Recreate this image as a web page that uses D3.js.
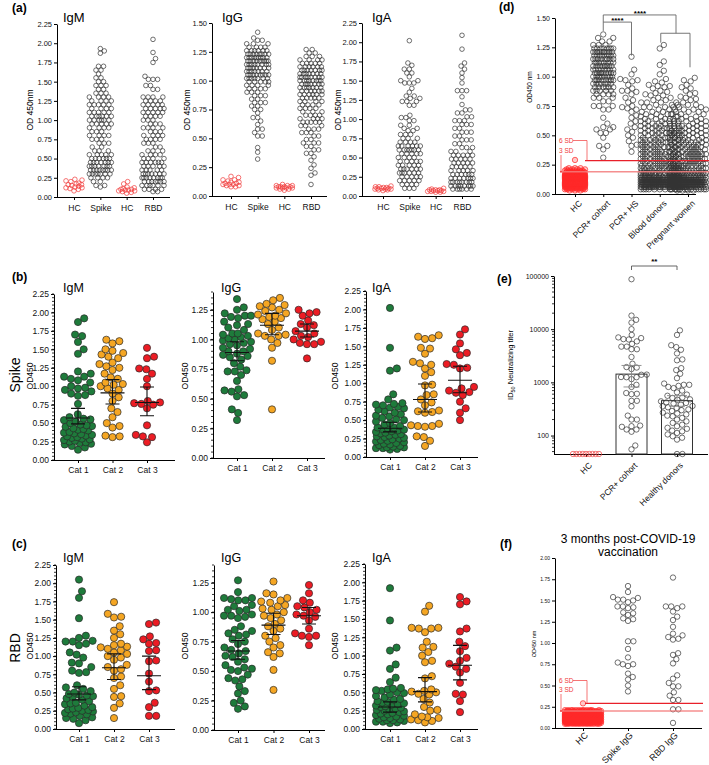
<!DOCTYPE html>
<html><head><meta charset="utf-8">
<script src="https://cdn.jsdelivr.net/npm/d3@7"></script>
<style>body{margin:0;background:#fff;} svg{display:block;}</style>
</head><body>
<svg id="c" width="709" height="765"></svg>
<script>
// ================= DATA =================
// values given either as single numbers or as [value, count] pairs
// ---- panel (a) ----
const aCats = ["HC","Spike","HC","RBD"];
const aTicks225 = [0,0.25,0.5,0.75,1,1.25,1.5,1.75,2,2.25];
const aTicks150 = [0,0.25,0.5,0.75,1,1.25,1.5];
const aIgM_HC1 = [0.23,0.22,0.21,0.20,0.18,0.17,0.16,0.16,0.15,0.14,0.13,0.12,0.12,0.11,0.10,0.08];
const aIgM_Spike = [[1.93,1],[1.90,1],[1.87,1],[1.70,2],[1.65,2],[1.60,1],[1.55,2],[1.50,2],[1.45,3],[1.40,2],[1.35,3],[1.30,4],[1.25,4],[1.20,5],[1.15,4],[1.10,5],[1.05,6],[1.00,6],[0.95,5],[0.90,4],[0.85,3],[0.80,4],[0.75,3],[0.70,3],[0.65,2],[0.60,3],[0.55,5],[0.50,6],[0.45,7],[0.40,7],[0.35,8],[0.30,7],[0.25,4],[0.20,2],[0.15,2],[0.13,1]];
const aIgM_HC2 = [0.20,0.17,0.13,0.12,0.11,0.10,0.10,0.09,0.09,0.08,0.08,0.07,0.06,0.05];
const aIgM_RBD = [[2.05,1],[1.88,1],[1.80,1],[1.75,1],[1.57,1],[1.53,3],[1.45,2],[1.40,2],[1.30,4],[1.25,4],[1.20,5],[1.15,5],[1.10,5],[1.05,4],[1.00,3],[0.95,3],[0.90,4],[0.85,3],[0.80,4],[0.75,4],[0.70,3],[0.65,2],[0.60,3],[0.55,4],[0.50,4],[0.45,6],[0.40,5],[0.35,5],[0.30,7],[0.25,8],[0.20,7],[0.15,6],[0.10,4],[0.07,2]];
const aIgG_HC1 = [0.17,0.16,0.14,0.14,0.13,0.12,0.12,0.11,0.11,0.10,0.10,0.10,0.09,0.09,0.08,0.08];
const aIgG_Spike = [[1.42,1],[1.37,1],[1.35,2],[1.32,3],[1.29,4],[1.26,6],[1.23,8],[1.20,9],[1.17,9],[1.14,8],[1.11,7],[1.08,7],[1.05,8],[1.02,7],[0.99,5],[0.96,4],[0.93,4],[0.90,3],[0.87,3],[0.84,2],[0.81,3],[0.78,2],[0.75,2],[0.72,1],[0.68,2],[0.65,1],[0.62,1],[0.58,2],[0.55,1],[0.52,2],[0.42,1],[0.38,1],[0.32,1]];
const aIgG_HC2 = [0.10,0.09,0.09,0.09,0.08,0.08,0.08,0.08,0.07,0.07,0.07,0.07,0.06,0.06,0.05];
const aIgG_RBD = [[1.27,2],[1.24,2],[1.21,3],[1.18,4],[1.15,5],[1.12,6],[1.09,7],[1.06,7],[1.03,8],[1.00,8],[0.97,7],[0.94,7],[0.91,6],[0.88,6],[0.85,5],[0.82,4],[0.79,4],[0.76,4],[0.73,3],[0.70,4],[0.67,4],[0.64,5],[0.61,3],[0.58,3],[0.55,3],[0.52,2],[0.49,2],[0.46,3],[0.43,2],[0.40,2],[0.37,2],[0.34,1],[0.31,1],[0.27,1],[0.24,1],[0.20,1],[0.18,1],[0.10,1]];
const aIgA_HC1 = [0.13,0.12,0.12,0.11,0.11,0.10,0.10,0.10,0.09,0.09,0.09,0.08,0.08,0.07];
const aIgA_Spike = [[2.02,1],[1.73,1],[1.70,1],[1.65,2],[1.60,2],[1.55,1],[1.50,2],[1.47,3],[1.40,1],[1.35,1],[1.30,2],[1.27,2],[1.23,3],[1.18,2],[1.05,1],[1.02,2],[0.98,2],[0.92,2],[0.88,2],[0.85,2],[0.80,3],[0.75,3],[0.70,4],[0.65,6],[0.60,7],[0.55,5],[0.50,4],[0.45,5],[0.40,5],[0.35,6],[0.30,6],[0.25,5],[0.20,5],[0.15,4],[0.10,3]];
const aIgA_HC2 = [0.10,0.09,0.08,0.08,0.08,0.07,0.07,0.07,0.06,0.06,0.06,0.05,0.05];
const aIgA_RBD = [[2.09,1],[1.91,1],[1.73,1],[1.69,1],[1.65,1],[1.60,1],[1.54,1],[1.47,1],[1.37,3],[1.29,1],[1.19,1],[1.12,2],[1.08,2],[1.03,2],[0.98,3],[0.93,3],[0.88,2],[0.83,3],[0.78,2],[0.73,3],[0.68,2],[0.63,3],[0.58,3],[0.53,5],[0.48,5],[0.43,5],[0.38,5],[0.33,5],[0.28,6],[0.23,7],[0.18,8],[0.13,8],[0.09,6]];

// ---- panels (b) Spike and (c) RBD ----
const bCats = ["Cat 1","Cat 2","Cat 3"];
const bTicks225 = [0,0.25,0.5,0.75,1,1.25,1.5,1.75,2,2.25];
const bTicks125 = [0,0.25,0.5,0.75,1,1.25];
const bIgM_cat1 = [1.92,1.87,1.70,1.68,1.60,1.50,1.44,1.20,1.17,1.13,1.13,1.10,1.08,1.05,1.00,0.98,0.97,0.95,0.93,0.90,0.88,0.87,0.76,0.62,0.58,0.56,0.55,0.54,0.52,0.50,0.48,0.47,0.46,0.45,0.43,0.42,0.41,0.40,0.38,0.37,0.36,0.35,0.34,0.33,0.32,0.31,0.30,0.29,0.28,0.27,0.26,0.25,0.24,0.23,0.22,0.21,0.19,0.17,0.14];
const bIgM_cat2 = [1.63,1.61,1.58,1.50,1.48,1.45,1.43,1.40,1.38,1.32,1.30,1.27,1.25,1.22,1.17,1.12,1.10,1.05,1.03,1.02,1.00,0.97,0.95,0.90,0.85,0.80,0.70,0.65,0.58,0.50,0.46,0.44,0.33,0.32,0.31];
const bIgM_cat3 = [1.52,1.40,1.38,1.24,1.23,1.17,1.10,1.00,0.80,0.78,0.77,0.76,0.75,0.70,0.47,0.34,0.32,0.31,0.24];
const bIgM_err = [[0.49,0.57,0.70],[0.76,0.91,1.09],[0.60,0.78,0.99]];
const bIgG_cat1 = [1.34,1.27,1.25,1.22,1.20,1.20,1.19,1.18,1.15,1.13,1.12,1.10,1.08,1.05,1.05,1.04,1.03,1.02,1.01,1.00,0.99,0.98,0.97,0.96,0.95,0.93,0.92,0.90,0.90,0.88,0.87,0.86,0.85,0.83,0.80,0.77,0.74,0.73,0.73,0.70,0.65,0.58,0.57,0.56,0.53,0.52,0.41,0.38,0.32];
const bIgG_cat2 = [1.35,1.33,1.30,1.29,1.28,1.27,1.25,1.24,1.22,1.21,1.20,1.19,1.18,1.17,1.15,1.13,1.10,1.08,1.05,1.04,1.03,1.03,1.00,0.97,0.93,0.82,0.41];
const bIgG_cat3 = [1.25,1.23,1.22,1.20,1.16,1.13,1.12,1.10,1.07,1.05,1.03,1.02,1.00,0.98,0.97,0.96,0.96,0.84];
const bIgG_err = [[0.82,0.89,0.98],[1.04,1.12,1.22],[1.02,1.07,1.13]];
const bIgA_cat1 = [2.02,1.48,1.20,1.17,0.85,0.78,0.73,0.72,0.71,0.70,0.68,0.67,0.66,0.64,0.62,0.60,0.58,0.56,0.55,0.53,0.51,0.50,0.48,0.46,0.44,0.42,0.40,0.40,0.39,0.38,0.37,0.36,0.35,0.34,0.33,0.32,0.31,0.30,0.29,0.28,0.27,0.26,0.25,0.24,0.23,0.22,0.21,0.20,0.19,0.18,0.17,0.16,0.15,0.14,0.13,0.13,0.12,0.12,0.11,0.10];
const bIgA_cat2 = [1.65,1.63,1.61,1.60,1.48,1.47,1.40,1.29,1.27,1.25,1.20,1.15,1.10,0.98,0.97,0.85,0.84,0.78,0.74,0.70,0.63,0.62,0.61,0.60,0.45,0.43,0.42,0.42,0.41,0.28,0.27,0.22,0.15];
const bIgA_cat3 = [1.73,1.66,1.54,1.46,1.41,1.38,1.26,1.25,1.21,1.20,0.95,0.93,0.90,0.88,0.87,0.84,0.75,0.66,0.60,0.50];
const bIgA_err = [[0.34,0.39,0.47],[0.61,0.78,0.99],[0.87,1.04,1.23]];

const cIgM_cat1 = [2.05,1.89,1.80,1.52,1.28,1.25,1.21,1.20,1.20,1.17,1.15,1.05,1.02,0.98,0.91,0.90,0.85,0.80,0.78,0.77,0.60,0.57,0.55,0.52,0.50,0.48,0.47,0.46,0.45,0.44,0.42,0.40,0.38,0.36,0.35,0.34,0.32,0.30,0.29,0.28,0.27,0.26,0.25,0.24,0.23,0.22,0.21,0.20,0.18,0.16,0.15,0.14,0.12,0.08];
const cIgM_cat2 = [1.74,1.58,1.54,1.53,1.41,1.35,1.30,1.25,1.17,1.15,1.13,1.12,1.10,1.08,1.05,1.03,1.00,0.98,0.95,0.88,0.85,0.82,0.80,0.72,0.70,0.60,0.55,0.45,0.44,0.35,0.29,0.15];
const cIgM_cat3 = [1.46,1.44,1.27,1.23,1.18,1.17,1.08,1.07,0.94,0.93,0.76,0.65,0.53,0.52,0.36,0.30,0.18,0.18];
const cIgM_err = [[0.40,0.48,0.58],[0.68,0.84,1.03],[0.54,0.73,1.00]];
const cIgG_cat1 = [1.27,1.17,1.12,1.12,1.11,1.10,1.10,1.06,1.05,1.02,1.02,1.01,0.98,0.97,0.97,0.96,0.95,0.88,0.85,0.84,0.82,0.81,0.80,0.77,0.75,0.73,0.70,0.68,0.67,0.65,0.63,0.62,0.60,0.58,0.55,0.53,0.52,0.51,0.50,0.47,0.44,0.43,0.42,0.37,0.33,0.31,0.25,0.23,0.20,0.18];
const cIgG_cat2 = [1.26,1.16,1.15,1.12,1.10,1.09,1.08,1.06,1.05,1.03,1.02,1.00,0.98,0.97,0.95,0.93,0.90,0.88,0.86,0.84,0.80,0.78,0.75,0.72,0.70,0.66,0.65,0.62,0.51,0.34];
const cIgG_cat3 = [1.23,1.16,1.10,1.08,1.05,1.04,1.02,1.00,0.98,0.97,0.96,0.93,0.86,0.82,0.80,0.80,0.79,0.72];
const cIgG_err = [[0.60,0.67,0.76],[0.81,0.89,0.99],[0.90,0.97,1.04]];
const cIgA_cat1 = [1.92,1.48,1.11,1.07,0.88,0.82,0.70,0.64,0.56,0.55,0.54,0.53,0.52,0.50,0.49,0.47,0.45,0.43,0.41,0.40,0.38,0.37,0.36,0.35,0.34,0.33,0.32,0.31,0.30,0.29,0.28,0.27,0.26,0.25,0.24,0.23,0.22,0.21,0.20,0.19,0.18,0.17,0.16,0.15,0.14,0.13,0.12,0.12,0.11,0.10,0.10,0.09,0.08];
const cIgA_cat2 = [1.68,1.60,1.38,1.38,1.37,1.37,1.32,1.19,1.12,1.11,1.05,1.00,0.93,0.91,0.72,0.69,0.54,0.52,0.51,0.50,0.48,0.47,0.41,0.36,0.30,0.26,0.25,0.20,0.17,0.16,0.15,0.13,0.12,0.11,0.09];
const cIgA_cat3 = [1.80,1.74,1.70,1.37,1.33,1.19,1.13,1.06,0.97,0.93,0.89,0.85,0.82,0.77,0.63,0.48,0.47,0.38,0.23];
const cIgA_err = [[0.23,0.30,0.37],[0.37,0.51,0.70],[0.67,0.87,1.14]];

// ---- panel (d) ----
const dCats = ["HC","PCR+ cohort","PCR+ HS","Blood donors","Pregnant women"];
const dTicks = [0,0.25,0.5,0.75,1,1.25,1.5];
const dSD = [0.285, 0.19];  // 6 SD, 3 SD cut-offs
const dHC = [[0.29,1],[0.22,3],[0.21,4],[0.20,6],[0.19,8],[0.18,10],[0.17,14],[0.16,18],[0.15,22],[0.14,26],[0.13,30],[0.12,32],[0.11,34],[0.10,34],[0.09,32],[0.08,28],[0.07,22],[0.06,16],[0.05,10],[0.04,6],[0.03,3]];
const dPCR = [[1.36,1],[1.33,2],[1.30,2],[1.27,3],[1.24,8],[1.21,9],[1.18,9],[1.15,8],[1.12,8],[1.09,8],[1.06,8],[1.03,9],[1.00,9],[0.97,8],[0.94,7],[0.91,6],[0.88,5],[0.85,4],[0.82,3],[0.79,2],[0.75,3],[0.72,2],[0.65,1],[0.60,1],[0.57,2],[0.55,2],[0.52,2],[0.48,1],[0.41,2],[0.38,1],[0.31,1]];
const dHS = [1.17,1.06,1.02,0.98,0.97,0.97,0.96,0.93,0.90,0.88,0.88,0.87,0.85,0.82,0.80,0.78,0.75,0.74,0.73,0.72,0.70,0.67,0.65,0.62,0.60,0.57,0.55,0.53,0.50,0.48,0.45,0.42,0.41,0.36];
const dBD = [1.27,1.24,1.13,1.10,1.05,1.02,0.98,0.96,0.95,0.93,0.92,0.92,0.91,0.90,0.88,0.87,0.86,0.85,[0.84,2],[0.82,2],[0.80,2],[0.78,3],[0.76,3],[0.74,3],[0.72,3],[0.70,3],[0.68,4],[0.66,4],[0.64,4],[0.62,5],[0.60,5],[0.58,6],[0.56,6],[0.54,6],[0.52,6],[0.50,6],[0.48,6],[0.46,7],[0.44,7],[0.42,7],[0.40,7],[0.38,7],[0.36,8],[0.34,8],[0.32,8],[0.30,8],[0.28,8],[0.26,9],[0.24,9],[0.22,10],[0.20,10],[0.18,12],[0.16,16],[0.14,24],[0.12,32],[0.10,36],[0.08,34],[0.06,26],[0.04,10]];
const dPW = [0.99,0.97,0.96,0.93,0.91,0.90,0.88,0.86,0.85,0.83,0.82,0.81,0.80,[0.78,2],[0.76,2],[0.74,3],[0.72,3],[0.70,3],[0.68,3],[0.66,3],[0.64,4],[0.62,4],[0.60,4],[0.58,5],[0.56,5],[0.54,6],[0.52,6],[0.50,6],[0.48,6],[0.46,6],[0.44,7],[0.42,7],[0.40,7],[0.38,7],[0.36,7],[0.34,8],[0.32,8],[0.30,8],[0.28,8],[0.26,9],[0.24,9],[0.22,9],[0.20,10],[0.18,12],[0.16,16],[0.14,24],[0.12,32],[0.10,36],[0.08,34],[0.06,26],[0.04,12],[0.03,4]];

// ---- panel (e) ----
const eCats = ["HC","PCR+ cohort","Healthy donors"];
const eTicks = [100,1000,10000,100000];
const eHC = [45,45,45,45,45,45,45,45,45];
const ePCR = [87000,18000,15000,13300,10000,7800,7000,6800,6500,6400,5900,5300,4700,4700,4200,4200,3000,2240,1940,1900,1780,1400,1390,1260,1250,1250,1150,900,820,630,610,600,450,450,355,237,200,200,154,150,146,130,130,118,65,55];
const eHD = [9500,7800,5000,4600,4100,3500,2700,2600,1850,1700,1450,1200,950,900,900,860,820,780,700,650,590,560,520,510,480,470,440,420,410,400,380,360,355,340,330,310,300,290,270,260,250,237,230,215,200,185,173,160,150,140,134,124,120,112,105,97,91,84,45,45];
const eBarVals = [1430, 453];         // PCR+ cohort, Healthy donors
const eBarCI = [[820,2080],[355,563]];

// ---- panel (f) ----
const fCats = ["HC","Spike IgG","RBD IgG"];
const fTicks = [0,0.25,0.5,0.75,1,1.25,1.5,1.75,2];
const fSD = [0.29, 0.20];
const fHC = [[0.29,1],[0.21,12],[0.20,12],[0.19,14],[0.18,16],[0.17,18],[0.16,20],[0.15,22],[0.14,24],[0.13,24],[0.12,26],[0.11,26],[0.10,26],[0.09,26],[0.08,24],[0.07,22],[0.06,20],[0.05,14]];
const fSpike = [1.67,1.60,1.54,1.53,1.51,1.51,1.50,1.48,1.43,1.43,1.42,1.41,1.36,1.35,1.33,1.29,1.28,1.26,1.02,1.02,0.93,0.83,0.77,0.75,0.75,0.73,0.64,0.60,0.57,0.50,0.43];
const fRBD = [1.77,1.43,1.43,1.43,1.41,1.37,1.31,1.27,1.19,1.11,1.09,1.07,1.05,1.04,0.88,0.86,0.81,0.76,0.62,0.58,0.53,0.49,0.49,0.42,0.38,0.33,0.33,0.22,0.22,0.06];

// ================= DRAWING =================
const FONT = '"Liberation Sans", Arial, Helvetica, sans-serif';
const svg = d3.select("#c").attr("font-family", FONT);
const expand = a => a.flatMap(e => Array.isArray(e) ? Array(e[1]).fill(e[0]) : [e]);
const f2 = d3.format(".2f");
const GREEN = "#1e7b3b", ORANGE = "#f5a623", RED = "#ec1c24";

function txt(x, y, s, size, o = {}) {
  const t = svg.append("text").attr("x", x).attr("y", y).attr("font-size", size).attr("fill", o.fill || "#000").text(s);
  if (o.anchor) t.attr("text-anchor", o.anchor);
  if (o.weight) t.attr("font-weight", o.weight);
  if (o.rot) t.attr("transform", `rotate(${o.rot},${x},${y})`);
  return t;
}

function swarm(vals, y, r, maxHalf) {
  const d = 2 * r, d2 = d * d;
  const pts = vals.map(v => ({ v, y: y(v), x: 0 })).sort((a, b) => b.y - a.y);
  const placed = [];
  for (const p of pts) {
    const nb = [];
    for (let i = placed.length - 1; i >= 0; i--) {
      const q = placed[i];
      if (q.y - p.y >= d) break;
      nb.push(q);
    }
    let best = null;
    if (nb.length < 60) {
      const c = [0];
      for (const q of nb) { const dy = q.y - p.y; const dx = Math.sqrt(Math.max(0, d2 - dy * dy)); c.push(q.x + dx, q.x - dx); }
      c.sort((a, b) => Math.abs(a) - Math.abs(b));
      for (const cx of c) {
        if (Math.abs(cx) > maxHalf + 1e-6) break;
        let ok = true;
        for (const q of nb) { const dx = q.x - cx, dy = q.y - p.y; if (dx * dx + dy * dy < d2 - 0.01) { ok = false; break; } }
        if (ok) { best = cx; break; }
      }
    }
    if (best === null) {
      let bs = -1; const N = 37;
      for (let k = 0; k < N; k++) {
        const cx = -maxHalf + 2 * maxHalf * k / (N - 1);
        let m = Infinity;
        for (const q of nb) { const dx = q.x - cx, dy = q.y - p.y; const dd = dx * dx + dy * dy; if (dd < m) m = dd; }
        if (m > bs) { bs = m; best = cx; }
      }
    }
    p.x = best; placed.push(p);
  }
  return pts;
}

function panel(c) {
  const g = svg.append("g");
  const y = (c.log ? d3.scaleLog() : d3.scaleLinear()).domain(c.yDomain).range([c.yBot, c.yTop]);
  const x = d3.scalePoint().domain(d3.range(c.cats.length)).range(c.catRange);
  const ya = g.append("g").attr("transform", `translate(${c.axisX},0)`)
    .call(d3.axisLeft(y).tickValues(c.yTicks).tickFormat(c.fmt || f2).tickSize(3).tickPadding(2).tickSizeOuter(0));
  ya.attr("font-family", FONT).attr("font-size", c.tickFont);
  ya.selectAll("text").attr("fill", "#111");
  if (c.minor) g.append("g").selectAll("line").data(c.minor).join("line")
    .attr("x1", c.axisX - 2).attr("x2", c.axisX).attr("y1", d => y(d)).attr("y2", d => y(d)).attr("stroke", "#000").attr("stroke-width", 0.8);
  const xa = g.append("g").attr("transform", `translate(0,${c.yBot})`)
    .call(d3.axisBottom(x).tickFormat(i => c.cats[i]).tickSize(3).tickPadding(c.xPad || 4).tickSizeOuter(0));
  xa.attr("font-family", FONT).attr("font-size", c.xFont);
  xa.selectAll("text").attr("fill", "#111");
  xa.select(".domain").attr("d", `M${c.axisX},0.5H${c.axisEnd}`);
  if (c.rot) xa.selectAll("text").attr("y", 0).attr("dy", 0).attr("text-anchor", "end")
    .attr("transform", `translate(${c.rot[0]},${c.rot[1]}) rotate(-45)`);
  if (c.title) txt(c.titleX, c.titleY, c.title, c.titleFont);
  if (c.ylab) txt(c.ylabX, c.ylabY, c.ylab, c.ylabFont, { anchor: "middle", rot: -90 });
  return { g, x, y };
}

function dots(p, groups) {
  groups.forEach((gr, i) => {
    if (!gr) return;
    const cx = p.x(i);
    const pts = swarm(expand(gr.vals), p.y, gr.r * (gr.gap || 1), gr.half);
    p.g.append("g").selectAll("circle").data(pts).join("circle")
      .attr("cx", q => cx + q.x).attr("cy", q => q.y).attr("r", gr.r)
      .attr("fill", gr.fill || "none").attr("stroke", gr.stroke).attr("stroke-width", gr.sw || 0.7);
  });
}

function errBars(p, err) {
  err.forEach(([lo, mid, hi], i) => {
    const cx = p.x(i);
    p.g.append("path").attr("d",
      `M${cx},${p.y(lo)}V${p.y(hi)}M${cx - 7},${p.y(lo)}H${cx + 7}M${cx - 7},${p.y(hi)}H${cx + 7}M${cx - 12},${p.y(mid)}H${cx + 12}`)
      .attr("stroke", "#111").attr("stroke-width", 1.1).attr("fill", "none");
  });
}

// ---------- panel (a) ----------
txt(12, 12, "(a)", 12, { weight: "bold" });
const openBlack = (vals, half) => ({ vals, r: 2.3, stroke: "#333", half });
const openRed = (vals) => ({ vals, r: 2.3, stroke: "#f03a3a", half: 8 });
const aCommon = { cats: aCats, tickFont: 7.5, xFont: 8.5, xPad: 5, titleFont: 13, titleY: 22, ylab: "OD 450nm", ylabFont: 8.5, ylabY: 110 };
let p;
p = panel({ ...aCommon, axisX: 57, axisEnd: 170, yTop: 24, yBot: 197, yDomain: [0, 2.25], yTicks: aTicks225, catRange: [74, 153], title: "IgM", titleX: 63, ylabX: 33 });
dots(p, [openRed(aIgM_HC1), openBlack(aIgM_Spike, 11), openRed(aIgM_HC2), openBlack(aIgM_RBD, 11)]);
p = panel({ ...aCommon, axisX: 212, axisEnd: 327, yTop: 23, yBot: 196, yDomain: [0, 1.5], yTicks: aTicks150, catRange: [231, 311], title: "IgG", titleX: 222, ylabX: 190 });
dots(p, [openRed(aIgG_HC1), openBlack(aIgG_Spike, 11), openRed(aIgG_HC2), openBlack(aIgG_RBD, 11)]);
p = panel({ ...aCommon, axisX: 362, axisEnd: 480, yTop: 23, yBot: 196, yDomain: [0, 2.25], yTicks: aTicks225, catRange: [383, 462], title: "IgA", titleX: 372, ylabX: 341 });
dots(p, [openRed(aIgA_HC1), openBlack(aIgA_Spike, 11), openRed(aIgA_HC2), openBlack(aIgA_RBD, 11)]);

// ---------- panels (b) and (c) ----------
const filled = (vals, fill) => ({ vals, r: 3.6, fill, stroke: "#2a2a2a", half: 14 });
const minor225 = d3.range(0, 2.2501, 0.05), minor140 = d3.range(0, 1.4001, 0.05);
function catRow(o) {
  const base = { cats: bCats, tickFont: 8.5, xFont: 8.5, xPad: 4, titleFont: 12.5, titleY: o.titleY, ylab: "OD450", ylabFont: 8.5, ylabY: o.ylabY };
  let q;
  q = panel({ ...base, axisX: o.ax[0], axisEnd: 175, yTop: o.top225[0], yBot: o.bot[0], yDomain: [0, 2.25], yTicks: bTicks225, minor: minor225, catRange: o.cr[0], title: "IgM", titleX: 63, ylabX: 33 });
  dots(q, [filled(o.IgM[0], GREEN), filled(o.IgM[1], ORANGE), filled(o.IgM[2], RED)]); errBars(q, o.IgM[3]);
  q = panel({ ...base, axisX: o.ax[1], axisEnd: 325, yTop: o.top140, yBot: o.bot[1], yDomain: [0, 1.4], yTicks: bTicks125, minor: minor140, catRange: o.cr[1], title: "IgG", titleX: 221, ylabX: 188 });
  dots(q, [filled(o.IgG[0], GREEN), filled(o.IgG[1], ORANGE), filled(o.IgG[2], RED)]); errBars(q, o.IgG[3]);
  q = panel({ ...base, axisX: o.ax[2], axisEnd: 478, yTop: o.top225[1], yBot: o.bot[2], yDomain: [0, 2.25], yTicks: bTicks225, minor: minor225, catRange: o.cr[2], title: "IgA", titleX: 372, ylabX: 338 });
  dots(q, [filled(o.IgA[0], GREEN), filled(o.IgA[1], ORANGE), filled(o.IgA[2], RED)]); errBars(q, o.IgA[3]);
}
txt(12, 281, "(b)", 12, { weight: "bold" });
txt(20, 375, "Spike", 14, { anchor: "middle", rot: -90 });
catRow({ titleY: 292, ylabY: 376, ax: [54, 213, 366], top225: [294, 291], top140: 292, bot: [460, 458, 457],
  cr: [[78, 147], [237, 307], [390, 460]],
  IgM: [bIgM_cat1, bIgM_cat2, bIgM_cat3, bIgM_err], IgG: [bIgG_cat1, bIgG_cat2, bIgG_cat3, bIgG_err], IgA: [bIgA_cat1, bIgA_cat2, bIgA_cat3, bIgA_err] });
txt(12, 548, "(c)", 12, { weight: "bold" });
txt(20, 648, "RBD", 14, { anchor: "middle", rot: -90 });
catRow({ titleY: 562, ylabY: 646, ax: [56, 214, 365], top225: [565, 564], top140: 565, bot: [729, 730, 729],
  cr: [[79, 149], [238, 309], [390, 460]],
  IgM: [cIgM_cat1, cIgM_cat2, cIgM_cat3, cIgM_err], IgG: [cIgG_cat1, cIgG_cat2, cIgG_cat3, cIgG_err], IgA: [cIgA_cat1, cIgA_cat2, cIgA_cat3, cIgA_err] });

// ---------- panel (d) ----------
txt(499, 11, "(d)", 12, { weight: "bold" });
const od = (vals, half) => ({ vals, r: 2.7, stroke: "#333", half });
p = panel({ cats: dCats, axisX: 555, axisEnd: 696, yTop: 18, yBot: 194, yDomain: [0, 1.5], yTicks: dTicks, tickFont: 7, xFont: 8.5,
  catRange: [575, 688], rot: [7, 10], ylab: "OD450 nm", ylabFont: 6.5, ylabX: 532, ylabY: 87 });
dots(p, [{ vals: dHC, r: 2.7, stroke: "#ff2a2a", fill: "rgba(255,40,40,0.25)", half: 10 }, od(dPCR, 10), od(dHS, 12), od(dBD, 19), od(dPW, 18)]);
function sdLines(p, sd, x6, x3, xEnd, lab) {
  const g = p.g;
  g.append("line").attr("x1", x3).attr("x2", xEnd).attr("y1", p.y(sd[1])).attr("y2", p.y(sd[1])).attr("stroke", "#f47c7c").attr("stroke-width", 1.6).attr("opacity", 0.85);
  g.append("line").attr("x1", x6).attr("x2", xEnd).attr("y1", p.y(sd[0])).attr("y2", p.y(sd[0])).attr("stroke", "#e8202a").attr("stroke-width", 1.2);
  g.append("path").attr("d", `M${lab.x + 14},${lab.y6 - 2.5}H${x6 + 2}V${p.y(sd[0])}M${lab.x + 2},${lab.y3 + 2}V${p.y(sd[1])}`).attr("stroke", "#f03a3a").attr("stroke-width", 0.7).attr("fill", "none");
  g.append("circle").attr("cx", lab.x + 2).attr("cy", p.y(sd[1])).attr("r", 1).attr("fill", "#f03a3a");
  txt(lab.x, lab.y6, "6 SD", 6.5, { fill: "#f03a3a" });
  txt(lab.x, lab.y3, "3 SD", 6.5, { fill: "#f03a3a" });
}
sdLines(p, dSD, 585, 562, 709, { x: 559, y6: 143, y3: 153 });
// significance brackets
const br = (d) => p.g.append("path").attr("d", d).attr("stroke", "#666").attr("stroke-width", 0.9).attr("fill", "none");
br(`M${p.x(1)},${p.y(1.39)}V${p.y(1.465)}H${p.x(2)}V${p.y(1.18)}`);
br(`M${p.x(1)},${p.y(1.465)}V${p.y(1.526)}H676V${p.y(1.37)}`);
br(`M${p.x(3) + 1},${p.y(1.29)}V${p.y(1.37)}H690V${p.y(1.08)}`);
txt((p.x(1) + p.x(2)) / 2, 23, "****", 8, { anchor: "middle", weight: "bold" });
txt(640, 16, "****", 8, { anchor: "middle", weight: "bold" });

// ---------- panel (e) ----------
txt(497, 283, "(e)", 12, { weight: "bold" });
const eMinor = [50, 60, 70, 80, 90].concat(d3.range(2, 10).map(k => k * 100), d3.range(2, 10).map(k => k * 1000), d3.range(2, 10).map(k => k * 10000));
p = panel({ log: true, cats: eCats, axisX: 554, axisEnd: 708, yTop: 276, yBot: 454, yDomain: [45, 100000], yTicks: eTicks, fmt: d3.format("d"),
  minor: eMinor, tickFont: 7, xFont: 8.5, catRange: [586, 677], rot: [6, 12] });
{
  const yl = svg.append("text").attr("transform", "rotate(-90,513,365)").attr("x", 513).attr("y", 365).attr("text-anchor", "middle").attr("font-size", 7.5);
  yl.append("tspan").text("ID");
  yl.append("tspan").attr("font-size", 5.5).attr("dy", 2).text("50");
  yl.append("tspan").attr("dy", -2).text(" Neutralizing titer");
}
p.g.append("g").selectAll("rect").data(eBarVals).join("rect")
  .attr("x", (d, i) => p.x(i + 1) - 15.5).attr("width", 31).attr("y", d => p.y(d)).attr("height", d => p.y(45) - p.y(d))
  .attr("fill", "none").attr("stroke", "#333").attr("stroke-width", 1);
dots(p, [{ vals: eHC, r: 2.7, stroke: "#f04040", half: 15, gap: 0.6 }, od(ePCR, 16), od(eHD, 16)]);
eBarCI.forEach(([lo, hi], i) => {
  const cx = p.x(i + 1);
  p.g.append("path").attr("d", `M${cx},${p.y(lo)}V${p.y(hi)}M${cx - 8},${p.y(lo)}H${cx + 8}M${cx - 10},${p.y(hi)}H${cx + 10}`)
    .attr("stroke", "#888").attr("stroke-width", 0.9).attr("fill", "none");
});
p.g.append("path").attr("d", `M${p.x(1)},270V266H${p.x(2)}V270`).attr("stroke", "#555").attr("stroke-width", 0.9).attr("fill", "none");
txt((p.x(1) + p.x(2)) / 2, 264, "**", 8, { anchor: "middle", weight: "bold" });

// ---------- panel (f) ----------
txt(500, 548, "(f)", 12, { weight: "bold" });
txt(628, 543, "3 months post-COVID-19", 12, { anchor: "middle" });
txt(628, 556, "vaccination", 12, { anchor: "middle" });
p = panel({ cats: fCats, axisX: 555, axisEnd: 702, yTop: 558, yBot: 728, yDomain: [0, 2], yTicks: fTicks, tickFont: 5, xFont: 9,
  catRange: [583, 673], rot: [5, 8], ylab: "OD450 nm", ylabFont: 5.5, ylabX: 536, ylabY: 644 });
dots(p, [{ vals: fHC, r: 2.7, stroke: "#ff2a2a", fill: "rgba(255,40,40,0.25)", half: 18 }, od(fSpike, 16), od(fRBD, 15)]);
sdLines(p, fSD, 585, 562, 703, { x: 559, y6: 683, y3: 692 });
</script>
</body></html>
